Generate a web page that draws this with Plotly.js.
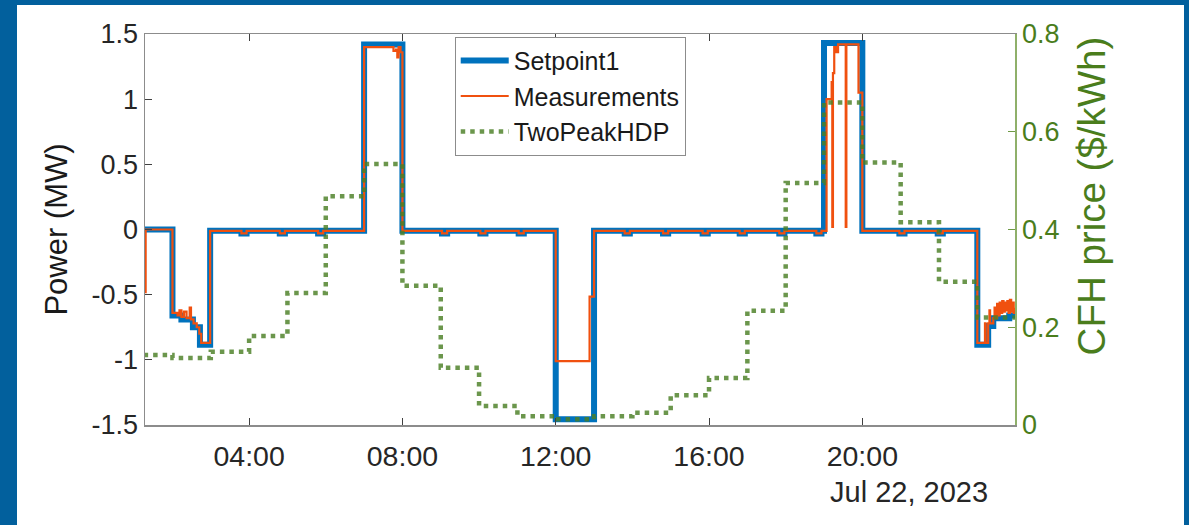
<!DOCTYPE html>
<html>
<head>
<meta charset="utf-8">
<script src="https://cdn.plot.ly/plotly-3.0.1.min.js"></script>
<style>
  html, body { margin:0; padding:0; background:#02609d; width:1189px; height:525px; overflow:hidden; }
  #chart { position:absolute; left:17px; top:5px; width:1167px; height:520px; background:#fff; }
</style>
</head>
<body>
<div id="chart"></div>
<script>
// ---- Data ----
const day = "2023-07-22 ";

const setpointTimes = ["01:00","02:00","02:14","02:32","02:43","02:59",
  "03:48","03:56","04:48","04:56","05:48","05:56",
  "07:00","08:00",
  "09:02","09:10","10:02","10:10","11:02","11:10",
  "12:00","13:00",
  "13:48","13:56","14:48","14:56","15:50","15:58","16:48","16:56","17:50","17:58","18:48","18:56",
  "19:00","20:00",
  "20:58","21:06","21:58","22:06",
  "23:00","23:17","23:25","23:50","23:59"];
const setpointValues = [0,-0.66,-0.69,-0.75,-0.885,-0.01,
  -0.03,-0.01,-0.03,-0.01,-0.03,-0.01,
  1.42,-0.01,
  -0.03,-0.01,-0.03,-0.01,-0.03,-0.01,
  -1.455,-0.01,
  -0.03,-0.01,-0.03,-0.01,-0.03,-0.01,-0.03,-0.01,-0.03,-0.01,-0.03,-0.01,
  1.43,-0.01,
  -0.03,-0.01,-0.03,-0.01,
  -0.885,-0.74,-0.68,-0.66,-0.66];

const measTimes = ["01:17","01:18","02:00","02:08","02:11","02:14","02:18","02:22","02:27","02:29","02:33","02:38","02:42","02:45","02:59",
  "03:48","03:56","04:48","04:56","05:48","05:56",
  "07:00","07:46","07:50","07:52","07:54","07:57","08:00",
  "09:02","09:10","10:02","10:10","11:02","11:10",
  "12:00","12:53","13:00",
  "13:48","13:56","14:48","14:56","15:50","15:58","16:48","16:56","17:50","17:58","18:48","18:56",
  "19:04","19:12","19:13","19:14","19:16","19:19","19:22","19:34","19:35","19:54","20:00",
  "20:58","21:06","21:58","22:06",
  "23:00","23:12","23:13","23:17","23:19","23:20","23:25","23:27","23:28","23:31","23:33","23:35","23:37","23:39","23:41","23:43","23:45","23:47","23:49","23:51","23:53","23:55","23:57","23:59"];
const measValues = [-0.48,0,-0.64,-0.66,-0.62,-0.67,-0.63,-0.68,-0.60,-0.69,-0.72,-0.75,-0.80,-0.87,-0.01,
  -0.03,-0.01,-0.03,-0.01,-0.03,-0.01,
  1.40,1.37,1.38,1.32,1.40,1.36,-0.01,
  -0.03,-0.01,-0.03,-0.01,-0.03,-0.01,
  -1.01,-0.515,-0.01,
  -0.03,-0.01,-0.03,-0.01,-0.03,-0.01,-0.03,-0.01,-0.03,-0.01,-0.03,-0.01,
  1.0,1.13,0.02,1.2,1.40,1.36,1.42,0.02,1.42,1.05,-0.01,
  -0.03,-0.01,-0.03,-0.01,
  -0.87,-0.72,-0.87,-0.72,-0.62,-0.72,-0.68,-0.60,-0.68,-0.57,-0.66,-0.56,-0.64,-0.55,-0.63,-0.56,-0.62,-0.55,-0.64,-0.54,-0.63,-0.56,-0.64,-0.60];

const priceTimes = ["01:00","02:00","03:00","04:00","05:00","06:00","07:00","08:00","09:00","10:00","11:00","12:00",
  "13:00","14:00","15:00","16:00","17:00","18:00","19:00","20:00","21:00","22:00","23:00","23:59"];
const priceValues = [0.143,0.137,0.150,0.182,0.270,0.468,0.534,0.285,0.117,0.039,0.018,0.012,
  0.018,0.025,0.061,0.096,0.234,0.495,0.660,0.537,0.415,0.293,0.220,0.220];

const xTickTimes = ["04:00","08:00","12:00","16:00","20:00"];
const yTicks = [-1.5,-1,-0.5,0,0.5,1,1.5];
const yTickText = ["-1.5","-1","-0.5","0","0.5","1","1.5"];
const y2Ticks = [0,0.2,0.4,0.6,0.8];
const y2TickText = ["0","0.2","0.4","0.6","0.8"];

// ---- Plot ----
const toDate = arr => arr.map(t => day + t);
const FONT = "Liberation Sans, Arial, sans-serif";
const GREEN = "#4a7d1c";

const traces = [
  { x: toDate(setpointTimes), y: setpointValues, name: "Setpoint1", type: "scatter", mode: "lines",
    line: { color: "#0072BD", width: 6, shape: "hv" } },
  { x: toDate(measTimes), y: measValues, name: "Measurements", type: "scatter", mode: "lines",
    line: { color: "#F0500F", width: 2.2, shape: "hv" } },
  { x: toDate(priceTimes), y: priceValues, name: "TwoPeakHDP", type: "scatter", mode: "lines", yaxis: "y2",
    line: { color: "#4a7f24", width: 4.5, shape: "hv", dash: "4.5px,5px" }, opacity: 0.82 }
];

const layout = {
  width: 1167, height: 520,
  margin: { l: 128, r: 169, t: 29, b: 100 },
  paper_bgcolor: "#ffffff", plot_bgcolor: "#ffffff",
  font: { family: FONT, color: "#262626", size: 26 },
  showlegend: true,
  legend: { x: 0.356, y: 0.993, xanchor: "left", yanchor: "top",
    bgcolor: "#ffffff", bordercolor: "#8c8c8c", borderwidth: 1,
    font: { family: FONT, size: 25, color: "#1a1a1a" }, itemwidth: 48, tracegroupgap: 0 },
  xaxis: {
    type: "date", range: [day + "01:17", day + "23:59"],
    tickmode: "array",
    tickvals: toDate(xTickTimes),
    ticktext: xTickTimes,
    ticks: "inside", ticklen: 7, tickcolor: "#404040", tickwidth: 1,
    ticklabelstandoff: 5,
    showline: true, linecolor: "#8c8c8c", linewidth: 1.5, mirror: "ticks",
    showgrid: false, zeroline: false,
    tickfont: { family: FONT, size: 28.5, color: "#262626" }
  },
  yaxis: {
    range: [-1.5, 1.5], tickmode: "array", tickvals: yTicks, ticktext: yTickText,
    ticks: "inside", ticklen: 7, tickcolor: "#404040",
    showline: true, linecolor: "#8c8c8c", linewidth: 1.5,
    showgrid: false, zeroline: false,
    tickfont: { family: FONT, size: 27, color: "#262626" },
    title: { text: "Power (MW)", font: { family: FONT, size: 31, color: "#1a1a1a" }, standoff: 14 }
  },
  yaxis2: {
    overlaying: "y", side: "right", range: [0, 0.8],
    tickmode: "array", tickvals: y2Ticks, ticktext: y2TickText,
    ticks: "inside", ticklen: 7, tickcolor: "#6f9a45",
    showline: true, linecolor: "#8fb06a", linewidth: 1.5,
    showgrid: false, zeroline: false,
    tickfont: { family: FONT, size: 27, color: GREEN }
  },
  annotations: [
    { text: "Jul 22, 2023", xref: "paper", yref: "paper", x: 0.971, y: -0.171, xanchor: "right", yanchor: "middle",
      showarrow: false, font: { family: FONT, size: 29, color: "#262626" } },
    { text: "CFH price ($/kWh)", xref: "paper", yref: "paper", x: 1.0875, y: 0.585, xanchor: "center", yanchor: "middle",
      textangle: -90, showarrow: false, font: { family: FONT, size: 38.5, color: GREEN } }
  ]
};

Plotly.newPlot("chart", traces, layout, { displayModeBar: false, staticPlot: true });
</script>
</body>
</html>
